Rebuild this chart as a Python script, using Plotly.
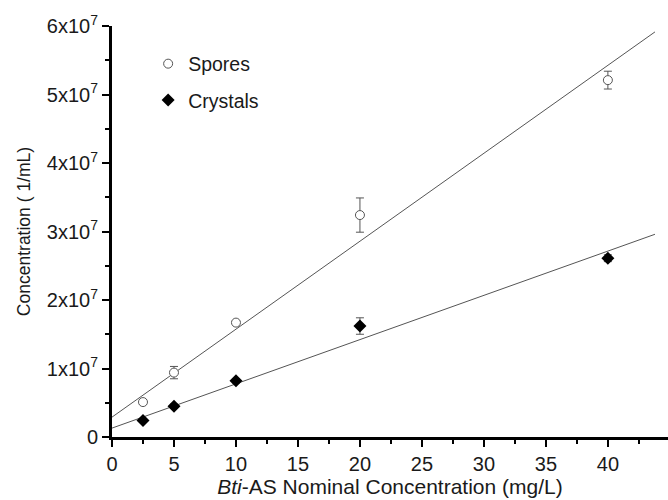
import plotly.graph_objects as go
import numpy as np

# Data (concentration in 1/mL)
x_conc = [2.5, 5, 10, 20, 40]
spores = [0.51e7, 0.94e7, 1.67e7, 3.24e7, 5.21e7]
spores_err = [0.03e7, 0.09e7, 0.03e7, 0.25e7, 0.13e7]
crystals = [0.24e7, 0.45e7, 0.82e7, 1.62e7, 2.61e7]
crystals_err = [0.02e7, 0.03e7, 0.03e7, 0.12e7, 0.05e7]

# Linear fit parameters (intercept, slope) as drawn
spores_fit = (0.29e7, 0.1284e7)
crystals_fit = (0.13e7, 0.0646e7)
fit_x = [0, 43.8]

y_tickvals = [0, 1e7, 2e7, 3e7, 4e7, 5e7, 6e7]
y_ticktext = ["0", "1x10<sup>7</sup>", "2x10<sup>7</sup>", "3x10<sup>7</sup>",
              "4x10<sup>7</sup>", "5x10<sup>7</sup>", "6x10<sup>7</sup>"]
x_tickvals = [0, 5, 10, 15, 20, 25, 30, 35, 40]

FONT = "Liberation Sans, Arial, sans-serif"
fig = go.Figure()

for fit in (spores_fit, crystals_fit):
    fx = np.array(fit_x)
    fig.add_trace(go.Scatter(x=fx, y=fit[0] + fit[1] * fx, mode="lines",
                             line=dict(color="#555555", width=1), showlegend=False,
                             hoverinfo="skip"))

fig.add_trace(go.Scatter(
    x=x_conc, y=spores, mode="markers", name="Spores", legendgroup="a",
    marker=dict(symbol="circle", size=9, color="white",
                line=dict(width=1, color="#555555")),
    error_y=dict(type="data", array=spores_err, color="#555555", thickness=1, width=4)))
fig.add_trace(go.Scatter(
    x=x_conc, y=crystals, mode="markers", name="Crystals", legendgroup="b",
    marker=dict(symbol="diamond", size=10, color="black"),
    error_y=dict(type="data", array=crystals_err, color="#555555", thickness=1, width=4)))

fig.update_layout(
    width=668, height=500,
    margin=dict(l=112, r=0, t=26, b=63),
    paper_bgcolor="white", plot_bgcolor="white",
    font=dict(family=FONT, color="#1a1a1a"),
    showlegend=True,
    legend=dict(x=0.065, y=0.955, xanchor="left", yanchor="top",
                bgcolor="rgba(0,0,0,0)", font=dict(size=19.5), tracegroupgap=8,
                itemwidth=30),
    xaxis=dict(range=[0, 44.85], tickvals=x_tickvals, ticks="outside", ticklen=7,
               tickwidth=2, tickcolor="black", showline=True, linewidth=3,
               linecolor="black", showgrid=False, zeroline=False,
               tickfont=dict(size=20),
               minor=dict(dtick=2.5, tick0=0, ticks="outside", ticklen=4,
                          tickwidth=2, tickcolor="black", showgrid=False),
               title=dict(text="<i>Bti</i>-AS Nominal Concentration (mg/L)",
                          font=dict(size=21), standoff=4)),
    yaxis=dict(range=[0, 6e7], tickvals=y_tickvals, ticktext=y_ticktext,
               ticks="outside", ticklen=7, tickwidth=2, tickcolor="black",
               showline=True, linewidth=3, linecolor="black", showgrid=False,
               zeroline=False, tickfont=dict(size=20),
               minor=dict(dtick=0.5e7, tick0=0, ticks="outside", ticklen=4,
                          tickwidth=2, tickcolor="black", showgrid=False),
               title=dict(text="Concentration ( 1/mL)", font=dict(size=17.5),
                          standoff=12)),
)

fig.write_html("out.html")
